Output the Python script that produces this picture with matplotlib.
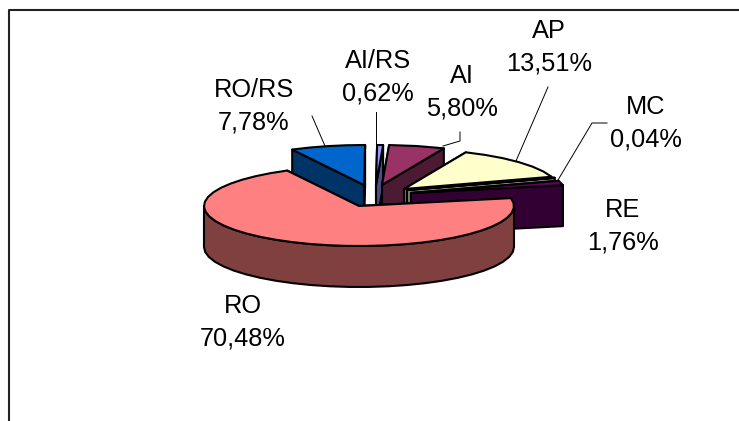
import numpy as np
import matplotlib
matplotlib.use('Agg')
from matplotlib import pyplot as plt
from matplotlib.patches import Polygon

plt.rcParams['font.family'] = ['Liberation Sans', 'DejaVu Sans']

# clockwise from the RO/RS slice, as in the sheet
labels = ['RO/RS', 'AI/RS', 'AI', 'AP', 'MC', 'RE', 'RO']
values = [7.78, 0.62, 5.80, 13.51, 0.04, 1.76, 70.48]
start_angle = 332.4

tops = ['#0066CC', '#9999FF', '#993366', '#FFFFCC', '#333322', '#660066', '#FF8080']
walls = ['#003366', '#4D4D80', '#4D1A33', '#808066', '#808066', '#330033', '#804040']
# where each slice's point ends up once pulled out of the pie
apex = [(364, 185), (376, 185), (382, 185), (404, 189), (407, 190), (411, 193), (359, 206)]
label_pos = [(254, 106), (378, 77), (462, 92), (549, 47), (646, 123), (623, 226), (243, 322)]
leaders = [[(312, 116), (325, 146)],
           [(376, 112), (376, 146)],
           [(443, 146), (460, 141), (460, 132)],
           [(548, 87), (516, 161)],
           [(558, 180), (592, 123), (607, 123)]]

rx, ry, depth = 155, 40, 41
draw_order = [1, 0, 2, 3, 4, 5, 6]

fig = plt.figure(figsize=(7.39, 4.21), dpi=100)
ax = fig.add_axes([0, 0, 1, 1])
ax.set_xlim(0, 739)
ax.set_ylim(421, 0)
ax.axis('off')

# chart frame, runs off the right and bottom of the picture
ax.plot([8.5, 8.5, 739], [421, 10, 10], color='#222222', lw=1.5, zorder=1)

angles = start_angle + np.cumsum([0] + values) * 3.6


def rim(a0, a1, cx, cy):
    n = max(2, int((a1 - a0) / 7) + 1)
    t = np.radians(np.linspace(a0, a1, n))
    return np.column_stack([cx + rx * np.sin(t), cy - ry * np.cos(t)])


z = 2
for i in draw_order:
    a0, a1 = angles[i], angles[i + 1]
    cx, cy = apex[i]
    arc = rim(a0, a1, cx, cy)
    style = dict(edgecolor='black', lw=1.5, joinstyle='round')

    # the two cut faces
    for p in (arc[0], arc[-1]):
        face = [(cx, cy), p, (p[0], p[1] + depth), (cx, cy + depth)]
        ax.add_patch(Polygon(face, facecolor=walls[i], zorder=z, **style))
        z += 1

    # outer wall, only the part facing the viewer
    lo, hi = a0 % 360, a0 % 360 + (a1 - a0)
    lo, hi = max(lo, 90), min(hi, 270)
    if hi > lo:
        front = rim(lo, hi, cx, cy)
        low = front[::-1] + [0, depth]
        ax.add_patch(Polygon(np.vstack([front, low]), facecolor=walls[i], zorder=z, **style))
        z += 1

    ax.add_patch(Polygon(np.vstack([[cx, cy], arc]), facecolor=tops[i], zorder=z, **style))
    z += 1

for line in leaders:
    xs, ys = zip(*line)
    ax.plot(xs, ys, color='black', lw=0.7, zorder=z)

for name, val, pos in zip(labels, values, label_pos):
    txt = f'{name}\n{val:.2f}%'.replace('.', ',')
    ax.text(pos[0], pos[1], txt, ha='center', va='center', fontsize=18.3, linespacing=1.45,
            color='black', zorder=z + 1)

fig.savefig('out.png', dpi=100)
print('done')
